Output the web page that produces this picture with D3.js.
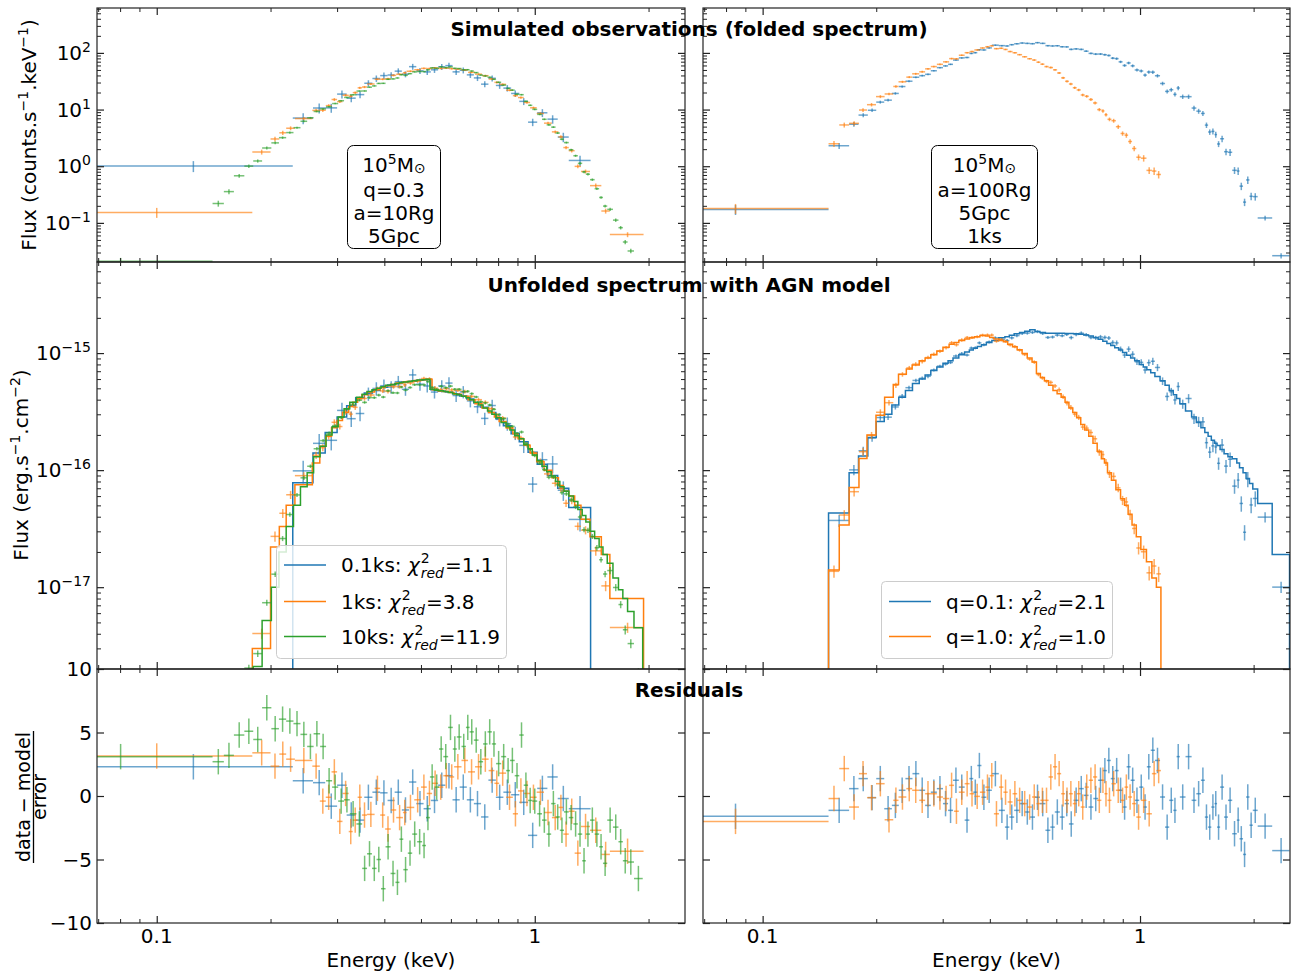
<!DOCTYPE html>
<html>
<head>
<meta charset="utf-8">
<script src="https://d3js.org/d3.v7.min.js"></script>
<style>
  body { margin: 0; background: #fff; }
  text { font-family: "DejaVu Sans", sans-serif; }
</style>
</head>
<body>
<div id="chart"></div>
<script>
// ---------------- data ----------------
// left column: 1e5 Msun, q=0.3, a=10Rg, 5Gpc ; exposures 0.1ks / 1ks / 10ks
// per series: bin edges (keV), folded model (counts/s/keV), unfolded model (1e-16 erg/s/cm2),
// residual (data-model)/error, relative error of each bin

var l01Edges = [0.021, 0.229, 0.259, 0.279, 0.300, 0.318, 0.336, 0.354, 0.372, 0.390,
  0.408, 0.426, 0.445, 0.465, 0.486, 0.508, 0.531, 0.555, 0.580, 0.606,
  0.633, 0.661, 0.690, 0.721, 0.754, 0.789, 0.826, 0.866, 0.910, 0.960,
  1.015, 1.080, 1.150, 1.230, 1.405];
var l01Fold = [0.67, 5.6, 8.8, 12.5, 16.5, 20.5, 25, 29.5, 34, 38.5,
  42.5, 46, 48.5, 50.5, 52, 52.5, 52.5, 51.5, 50, 48,
  45.5, 42.5, 39, 35, 31, 27, 23, 19, 15, 11.2,
  8.0, 5.4, 3.4, 1.6];
var l01Unf = [0.01, 0.78, 1.4, 2.1, 2.85, 3.55, 4.15, 4.55, 4.8, 5.1,
  5.35, 5.5, 5.65, 5.75, 5.85, 5.95, 4.85, 4.75, 4.65, 4.5,
  4.3, 4.05, 3.75, 3.45, 3.1, 2.75, 2.4, 2.05, 1.75, 1.42,
  1.12, 0.9, 0.7, 0.48];
var l01Res = [2.3, 1.2, 1.05, -0.8, 0.85, -1.5, -1.9, -0.1, 0.3, 0.25,
  -0.35, 0.3, -1.1, 1.1, -0.6, -1.0, -0.35, 0.85, 1.6, -0.3,
  0.7, -0.3, -0.6, -1.65, 1.25, -0.1, 0.3, 0.1, -0.5, -3.1,
  0.6, 1.5, -0.2, -1.0];
var l01Err = [0.22, 0.22, 0.2, 0.18, 0.16, 0.15, 0.14, 0.13, 0.13, 0.13,
  0.12, 0.12, 0.12, 0.12, 0.12, 0.12, 0.12, 0.12, 0.12, 0.12,
  0.12, 0.12, 0.12, 0.12, 0.12, 0.13, 0.13, 0.13, 0.14, 0.15,
  0.16, 0.17, 0.19, 0.21];

var l1Edges = [0.021, 0.179, 0.200, 0.211, 0.220, 0.232, 0.258, 0.270, 0.280, 0.290,
  0.300, 0.310, 0.322, 0.330, 0.340, 0.349, 0.360, 0.377, 0.390, 0.402,
  0.416, 0.430, 0.448, 0.458, 0.480, 0.500, 0.518, 0.535, 0.555, 0.573,
  0.594, 0.612, 0.640, 0.666, 0.695, 0.725, 0.755, 0.782, 0.805, 0.840,
  0.875, 0.903, 0.935, 0.972, 1.012, 1.058, 1.110, 1.155, 1.190, 1.230,
  1.275, 1.325, 1.400, 1.500, 1.580, 1.940];
var l1Fold = [0.094, 1.33, 2.45, 3.0, 3.8, 5.8, 8.3, 10, 11.8, 13.5,
  15.5, 17.7, 20, 22, 24.3, 26.8, 30, 33.5, 36.5, 39,
  42, 45, 47, 49, 51, 52, 52.5, 52.5, 52, 51,
  50, 48, 45.5, 42.5, 39, 35.5, 32, 29, 26, 22,
  18.8, 16, 13.2, 10.8, 8.4, 6.2, 4.5, 3.5, 2.7, 2.05,
  1.5, 1.0, 0.6, 0.3, 0.11];
var l1Unf = [0.01, 0.03, 0.22, 0.33, 0.5, 0.75, 1.15, 1.6, 1.95, 2.3,
  2.65, 3.1, 3.5, 3.8, 4.1, 4.4, 4.65, 4.85, 5.05, 5.25,
  5.4, 5.55, 5.65, 5.73, 5.83, 5.92, 5.97, 4.85, 4.75, 4.7,
  4.6, 4.45, 4.27, 4.0, 3.7, 3.4, 3.1, 2.85, 2.6, 2.3,
  2.05, 1.85, 1.63, 1.4, 1.18, 1.0, 0.86, 0.74, 0.66, 0.6,
  0.5, 0.38, 0.27, 0.19, 0.08];
var l1Res = [3.15, 3.4, 2.35, 3.3, 2.9, 2.8, 2.35, -0.4, -0.1, 1.9,
  -2.0, 0.2, -2.8, -1.9, -0.1, -1.5, -1.45, 0.6, -1.5, -2.6,
  -1.1, -1.7, -1.3, -0.9, -0.3, 0.7, 0.2, 1.0, 0.7, 1.6,
  1.5, 2.3, 2.8, 1.9, 2.3, 2.9, 2.0, 1.0, 1.8, -0.1,
  -1.4, 0.4, 0.2, -0.1, 0.3, -1.3, -1.7, -0.9, -3.0, -1.2,
  -4.5, -2.4, -2.7, -4.6, -4.35];
var l1Err = [0.2, 0.1, 0.1, 0.09, 0.08, 0.07, 0.07, 0.07, 0.06, 0.06,
  0.055, 0.05, 0.05, 0.05, 0.045, 0.045, 0.04, 0.04, 0.04, 0.04,
  0.04, 0.04, 0.04, 0.035, 0.035, 0.035, 0.035, 0.035, 0.035, 0.035,
  0.035, 0.035, 0.035, 0.035, 0.035, 0.04, 0.04, 0.04, 0.04, 0.04,
  0.045, 0.045, 0.05, 0.05, 0.05, 0.055, 0.06, 0.065, 0.07, 0.07,
  0.075, 0.08, 0.09, 0.1, 0.1];

var l10Edges = [0.02, 0.1405, 0.1505, 0.16, 0.1705, 0.18, 0.19, 0.201, 0.2105, 0.22,
  0.23, 0.24, 0.25, 0.26, 0.2705, 0.2805, 0.291, 0.302, 0.313, 0.324,
  0.3375, 0.3495, 0.36, 0.371, 0.3815, 0.392, 0.403, 0.4155, 0.428, 0.4385,
  0.449, 0.4615, 0.474, 0.4885, 0.5035, 0.5155, 0.528, 0.5425, 0.558, 0.573,
  0.59, 0.607, 0.622, 0.64, 0.6575, 0.6725, 0.69, 0.71, 0.73, 0.75,
  0.77, 0.79, 0.815, 0.84, 0.86, 0.885, 0.91, 0.935, 0.96, 0.985,
  1.015, 1.045, 1.075, 1.105, 1.135, 1.165, 1.195, 1.23, 1.265, 1.3,
  1.335, 1.365, 1.4, 1.44, 1.48, 1.515, 1.555, 1.61, 1.665, 1.71,
  1.76, 1.83, 1.93];
var l10Fold = [0.0143, 0.166, 0.27, 0.49, 0.74, 0.96, 1.48, 2.0, 2.45, 3.1,
  3.9, 5.2, 6.3, 7.9, 9.2, 10.8, 12.5, 14.5, 16.5, 19,
  22.5, 25, 28, 30.5, 33, 35.5, 38, 41, 43.5, 45,
  47, 48.5, 50, 51.5, 52, 52.5, 52.5, 52.5, 52, 51,
  50, 49, 47.5, 46, 44.5, 42.5, 40.5, 38, 35.5, 33,
  31, 28.5, 25, 22.5, 20.5, 17.8, 16, 13.6, 12, 10.2,
  8.6, 7.2, 6.0, 5.0, 4.1, 3.35, 2.75, 2.1, 1.7, 1.3,
  1.05, 0.85, 0.64, 0.48, 0.36, 0.29, 0.2, 0.135, 0.11, 0.085,
  0.06, 0.045];
var l10Unf = [0.003, 0.004, 0.006, 0.01, 0.015, 0.021, 0.052, 0.1, 0.2, 0.33,
  0.5, 0.72, 0.95, 1.3, 1.6, 2.0, 2.35, 2.85, 3.35, 3.8,
  4.2, 4.45, 4.7, 4.85, 5.0, 5.15, 5.3, 5.4, 5.5, 5.6,
  5.65, 5.72, 5.8, 5.88, 5.93, 5.97, 4.9, 4.82, 4.76, 4.7,
  4.6, 4.5, 4.4, 4.27, 4.15, 4.0, 3.8, 3.6, 3.4, 3.2,
  3.0, 2.8, 2.55, 2.35, 2.2, 1.97, 1.85, 1.65, 1.52, 1.35,
  1.2, 1.08, 0.97, 0.89, 0.8, 0.72, 0.66, 0.6, 0.54, 0.46,
  0.41, 0.36, 0.3, 0.26, 0.22, 0.19, 0.16, 0.12, 0.095, 0.08,
  0.062, 0.045];
var l10Res = [3.1, 2.7, 3.2, 4.8, 5.1, 4.45, 6.95, 5.3, 6.05, 5.9,
  5.7, 4.85, 3.9, 4.9, 3.9, 1.2, 0.7, -0.4, -0.3, -1.4,
  -2.2, -5.7, -4.55, -5.7, -5.0, -7.3, -4.0, -6.1, -6.8, -3.4,
  -5.8, -4.5, -3.0, -3.6, -3.9, -1.7, 1.5, 0.7, 3.7, 3.1,
  5.4, 3.7, 4.65, 3.9, 5.4, 5.05, 4.4, 2.7, 4.1, 5.05,
  4.1, 2.55, 3.1, 2.0, 2.8, 1.6, 4.8, 0.85, -0.35, -0.4,
  -1.4, -1.9, -3.0, -0.6, -1.65, -2.7, -1.25, -1.7, -2.2, -3.0,
  -5.1, -3.0, -1.9, -3.0, -4.0, -5.3, -1.9, -2.45, -3.6, -5.1,
  -5.2, -6.5];
var l10Err = [0.15, 0.12, 0.1, 0.08, 0.07, 0.065, 0.06, 0.055, 0.05, 0.045,
  0.04, 0.04, 0.035, 0.035, 0.03, 0.03, 0.03, 0.03, 0.028, 0.028,
  0.026, 0.026, 0.025, 0.025, 0.025, 0.025, 0.025, 0.025, 0.025, 0.025,
  0.025, 0.025, 0.025, 0.025, 0.025, 0.025, 0.025, 0.025, 0.025, 0.025,
  0.025, 0.025, 0.025, 0.025, 0.025, 0.025, 0.025, 0.025, 0.025, 0.025,
  0.025, 0.025, 0.026, 0.026, 0.027, 0.028, 0.03, 0.03, 0.03, 0.032,
  0.032, 0.034, 0.035, 0.035, 0.037, 0.04, 0.04, 0.042, 0.045, 0.045,
  0.048, 0.05, 0.05, 0.055, 0.055, 0.06, 0.07, 0.07, 0.07, 0.09,
  0.09, 0.09];

// right column: 1e5 Msun, a=100Rg, 5Gpc, 1ks ; q=0.1 / q=1.0
var q01Edges = [0.02, 0.1495, 0.1695, 0.1795, 0.19, 0.2, 0.21, 0.22, 0.2295, 0.239,
  0.2495, 0.26, 0.2695, 0.279, 0.2895, 0.3005, 0.31, 0.3195, 0.331, 0.343,
  0.353, 0.3615, 0.3705, 0.38, 0.3915, 0.405, 0.4225, 0.4385, 0.4505, 0.464,
  0.4795, 0.495, 0.5105, 0.527, 0.543, 0.5615, 0.5785, 0.5945, 0.613, 0.631,
  0.648, 0.6665, 0.688, 0.7095, 0.7305, 0.752, 0.7745, 0.797, 0.817, 0.8365,
  0.857, 0.8775, 0.899, 0.9215, 0.9445, 0.968, 0.995, 1.02, 1.0425, 1.0675,
  1.095, 1.13, 1.165, 1.195, 1.225, 1.25, 1.275, 1.32, 1.37, 1.41,
  1.45, 1.485, 1.515, 1.545, 1.575, 1.6, 1.63, 1.67, 1.71, 1.755,
  1.805, 1.835, 1.875, 1.91, 1.95, 1.99, 2.05, 2.24, 2.49];
var q01Fold = [0.253, 2.66, 5.2, 7.2, 9.8, 12.5, 15.5, 20, 25, 30,
  35, 39, 43, 48, 54, 60, 65, 72, 80, 88,
  94, 100, 106, 113, 121, 130, 139, 143, 147, 150,
  152, 153, 153, 152, 150, 146, 143, 139, 135, 130,
  125, 119, 113, 107, 101, 96, 91, 86, 81, 76,
  72, 68, 63, 59, 55, 51, 46, 43, 40, 36.5,
  33, 29, 26, 23, 20.5, 19, 17, 13.2, 11, 9.2,
  7.6, 6.5, 5.5, 4.6, 3.9, 3.5, 2.8, 2.3, 1.85, 1.45,
  1.15, 0.9, 0.75, 0.58, 0.45, 0.35, 0.16, 0.05];
var q01Unf = [0.01, 0.43, 0.95, 1.32, 1.9, 2.6, 3.0, 3.6, 4.2, 4.8,
  5.5, 6.0, 6.5, 7.1, 7.6, 8.2, 8.6, 9.1, 9.7, 10.2,
  10.6, 11.0, 11.4, 11.8, 12.3, 12.8, 13.5, 13.8, 14.2, 14.6,
  15.0, 15.4, 15.8, 15.3, 15.0, 14.8, 14.8, 14.8, 14.8, 14.7,
  14.7, 14.6, 14.5, 14.3, 14.0, 13.6, 13.1, 12.6, 12.1, 11.6,
  11.1, 10.6, 10.1, 9.6, 9.1, 8.6, 8.0, 7.6, 7.2, 6.8,
  6.3, 5.8, 5.3, 4.8, 4.4, 4.1, 3.7, 3.2, 2.85, 2.55,
  2.3, 2.1, 1.95, 1.8, 1.7, 1.62, 1.5, 1.38, 1.3, 1.25,
  1.15, 1.05, 0.95, 0.85, 0.77, 0.69, 0.52, 0.19];
var q01Res = [-1.6, -1.13, 0.58, 1.37, -0.13, 1.37, -1.0, -0.74, 0.45, 1.37,
  1.76, 0.45, -0.74, 0.3, 0.58, -0.6, -1.13, 1.24, 0.7, -1.9,
  1.37, 0.3, 2.4, -0.1, 0.45, 1.76, -1.13, -2.45, -1.66, -1.13,
  -0.6, -1.26, -1.66, -0.1, -0.6, -2.7, -2.45, -1.26, -1.66, -0.6,
  -2.2, -0.34, 0.58, 0.05, -0.87, -0.2, 1.24, 2.0, 2.8, 1.37,
  2.0, 0.45, -0.87, 2.3, 1.24, -0.34, 0.7, -0.87, 2.3, 3.6,
  2.8, -0.08, -2.45, -0.34, -1.13, 3.1, -0.08, 3.1, -0.34, 0.18,
  1.24, -1.66, -2.45, -0.87, -0.6, -2.45, 0.7, -1.66, -0.34, -2.97,
  -1.9, -3.37, -4.6, -0.08, -2.3, -1.13, -2.37, -4.3];
var q01Err = [0.2, 0.12, 0.1, 0.08, 0.07, 0.06, 0.055, 0.05, 0.045, 0.04,
  0.035, 0.035, 0.035, 0.03, 0.03, 0.03, 0.03, 0.03, 0.03, 0.03,
  0.03, 0.03, 0.03, 0.03, 0.03, 0.03, 0.03, 0.03, 0.03, 0.03,
  0.03, 0.03, 0.03, 0.03, 0.03, 0.03, 0.03, 0.03, 0.03, 0.03,
  0.035, 0.035, 0.035, 0.035, 0.035, 0.04, 0.04, 0.04, 0.04, 0.045,
  0.05, 0.05, 0.055, 0.055, 0.06, 0.06, 0.06, 0.065, 0.065, 0.07,
  0.07, 0.075, 0.08, 0.08, 0.085, 0.085, 0.09, 0.09, 0.1, 0.1,
  0.1, 0.11, 0.11, 0.12, 0.12, 0.12, 0.13, 0.13, 0.14, 0.14,
  0.15, 0.15, 0.15, 0.15, 0.15, 0.15, 0.1, 0.11];

var q1Edges = [0.02, 0.1495, 0.1596, 0.1695, 0.18, 0.189, 0.1997, 0.2105, 0.2219, 0.2291,
  0.2403, 0.249, 0.26, 0.2695, 0.279, 0.2895, 0.3005, 0.312, 0.3215, 0.331,
  0.343, 0.3535, 0.364, 0.3765, 0.389, 0.3995, 0.41, 0.423, 0.4345, 0.446,
  0.4595, 0.4725, 0.487, 0.5025, 0.5175, 0.5315, 0.5445, 0.558, 0.5725, 0.588,
  0.603, 0.618, 0.633, 0.648, 0.6635, 0.6795, 0.6965, 0.7135, 0.7315, 0.7505,
  0.77, 0.79, 0.805, 0.82, 0.84, 0.863, 0.888, 0.91, 0.93, 0.9525,
  0.9775, 1.005, 1.04, 1.075, 1.105, 1.136];
var q1Fold = [0.3, 2.55, 4.4, 6.2, 8.6, 12.3, 16, 21, 26, 31,
  36.5, 42, 47, 52, 57, 63, 70, 77, 82, 90,
  98, 105, 113, 121, 126, 127, 124, 118, 114, 107,
  100, 94, 87, 81, 75, 70, 64, 58, 52, 46,
  41, 36, 32, 28, 25, 22, 19, 16.5, 14, 12,
  10.2, 8.7, 8.0, 6.9, 5.9, 4.8, 3.9, 3.3, 2.75, 2.2,
  1.8, 1.45, 1.05, 0.65, 0.55];
var q1Unf = [0.01, 0.14, 0.34, 0.71, 1.26, 2.0, 2.95, 4.2, 5.4, 6.6,
  7.3, 7.9, 8.6, 9.1, 9.7, 10.4, 11.2, 11.9, 12.3, 12.8,
  13.2, 13.5, 13.8, 14.1, 14.0, 13.6, 13.2, 12.8, 12.5, 11.9,
  11.3, 10.7, 9.9, 9.1, 8.4, 6.7, 6.2, 5.8, 5.3, 4.8,
  4.5, 4.2, 3.8, 3.4, 3.1, 2.8, 2.45, 2.2, 1.95, 1.7,
  1.45, 1.25, 1.15, 0.95, 0.82, 0.68, 0.57, 0.5, 0.42, 0.34,
  0.27, 0.21, 0.165, 0.12, 0.1];
var q1Res = [-2.0, -0.2, 2.16, -0.87, 1.76, -0.13, 0.97, -1.87, -0.34, -0.08,
  0.58, 0.45, -0.34, 0.18, 0.18, -0.08, -0.2, 0.84, -1.2, 0.3,
  0.97, 0.18, -0.03, 0.3, 0.7, 1.6, -1.4, 0.7, 0.3, -0.47,
  0.18, -0.34, -0.6, -0.87, -0.08, -0.6, -0.34, -0.34, 1.5, 2.3,
  1.76, 0.18, -0.34, 0.18, -0.6, 0.18, -0.87, 0.7, 1.24, 1.5,
  -0.34, 1.24, 0.18, -0.34, 0.97, 0.45, -0.34, 0.7, -0.08, -0.6,
  -1.66, -0.34, -1.4, 1.76, 2.0];
var q1Err = [0.2, 0.12, 0.1, 0.09, 0.08, 0.07, 0.06, 0.055, 0.05, 0.045,
  0.04, 0.04, 0.04, 0.035, 0.035, 0.035, 0.035, 0.035, 0.035, 0.035,
  0.03, 0.03, 0.03, 0.03, 0.03, 0.03, 0.03, 0.03, 0.03, 0.03,
  0.03, 0.03, 0.03, 0.03, 0.035, 0.035, 0.035, 0.035, 0.04, 0.04,
  0.045, 0.045, 0.045, 0.05, 0.05, 0.05, 0.055, 0.055, 0.06, 0.06,
  0.065, 0.07, 0.07, 0.075, 0.08, 0.085, 0.09, 0.1, 0.1, 0.11,
  0.12, 0.13, 0.14, 0.15, 0.15];

// legend / annotation text
var leftLabels = ["0.1ks", "1ks", "10ks"];
var leftChi = ["1.1", "3.8", "11.9"];
var rightLabels = ["q=0.1", "q=1.0"];
var rightChi = ["2.1", "1.0"];
var leftBoxText = ["q=0.3", "a=10Rg", "5Gpc"];
var rightBoxText = ["a=100Rg", "5Gpc", "1ks"];

var blue = "#1f77b4", orange = "#ff7f0e", green = "#2ca02c";

// ---------------- layout ----------------
var cols = [{x0: 97, x1: 685}, {x0: 703, x1: 1290}];
var rows = {fold: {y0: 8, y1: 262}, unf: {y0: 262, y1: 669}, res: {y0: 669, y1: 923}};

var svg = d3.select("#chart").append("svg")
  .attr("width", 1311)
  .attr("height", 974);

var eDomain = [0.0695, 2.497];
var xScales = cols.map(function(c) {
  return d3.scaleLog().domain(eDomain).range([c.x0, c.x1]);
});
var yFold = d3.scaleLog().domain([0.0204, 620]).range([rows.fold.y1, rows.fold.y0]);
var yUnf = d3.scaleLog().domain([2.0e-18, 6.0e-15]).range([rows.unf.y1, rows.unf.y0]);
var yRes = d3.scaleLinear().domain([-10, 10]).range([rows.res.y1, rows.res.y0]);

// build bins: data = model * (1 + resid * relErr), as in (data-model)/error
function makeBins(edges, fold, unf, res, rel) {
  return fold.map(function(m, i) {
    var f = 1 + res[i] * rel[i];
    var lo = edges[i], hi = edges[i + 1];
    return {
      lo: lo, hi: hi, e: (lo + hi) / 2,
      cts: m * f, ctsErr: m * f * rel[i],
      flux: unf[i] * f * 1e-16, fluxErr: unf[i] * f * rel[i] * 1e-16,
      model: unf[i] * 1e-16,
      res: res[i]
    };
  });
}

var leftSeries = [
  {color: blue, bins: makeBins(l01Edges, l01Fold, l01Unf, l01Res, l01Err)},
  {color: orange, bins: makeBins(l1Edges, l1Fold, l1Unf, l1Res, l1Err)},
  {color: green, bins: makeBins(l10Edges, l10Fold, l10Unf, l10Res, l10Err)}
];
var rightSeries = [
  {color: blue, bins: makeBins(q01Edges, q01Fold, q01Unf, q01Res, q01Err)},
  {color: orange, bins: makeBins(q1Edges, q1Fold, q1Unf, q1Res, q1Err)}
];

// clip paths
var defs = svg.append("defs");
var clipId = 0;
function panelGroup(c, r) {
  var id = "clip" + (clipId++);
  defs.append("clipPath").attr("id", id).append("rect")
    .attr("x", c.x0).attr("y", r.y0)
    .attr("width", c.x1 - c.x0).attr("height", r.y1 - r.y0);
  return svg.append("g").attr("clip-path", "url(#" + id + ")");
}

// error bars: horizontal = bin width, vertical = error
function errorbars(g, bins, xs, ys, val, err, color, isLog) {
  var lowLimit = ys.domain()[0] / 100;
  var grp = g.append("g")
    .attr("stroke", color)
    .attr("stroke-width", 1.5)
    .attr("stroke-opacity", 0.65);
  grp.selectAll(null).data(bins).enter().append("line")
    .attr("x1", d => xs(d.lo)).attr("x2", d => xs(d.hi))
    .attr("y1", d => ys(val(d))).attr("y2", d => ys(val(d)));
  grp.selectAll(null).data(bins).enter().append("line")
    .attr("x1", d => xs(d.e)).attr("x2", d => xs(d.e))
    .attr("y1", function(d) {
      var v = val(d) - err(d);
      if (isLog && v <= 0) v = lowLimit;
      return ys(v);
    })
    .attr("y2", d => ys(val(d) + err(d)));
}

// model step line
function stepLine(g, bins, xs, ys, color) {
  var floorV = ys.domain()[0] / 100;
  var pts = [[bins[0].lo, floorV]];
  bins.forEach(function(b) {
    pts.push([b.lo, b.model]);
    pts.push([b.hi, b.model]);
  });
  pts.push([bins[bins.length - 1].hi, floorV]);
  g.append("path")
    .attr("d", d3.line().x(p => xs(p[0])).y(p => ys(p[1]))(pts))
    .attr("fill", "none")
    .attr("stroke", color)
    .attr("stroke-width", 1.5);
}

// ---------------- draw data ----------------
[leftSeries, rightSeries].forEach(function(series, ci) {
  var xs = xScales[ci];
  var c = cols[ci];
  var gF = panelGroup(c, rows.fold);
  var gU = panelGroup(c, rows.unf);
  var gR = panelGroup(c, rows.res);
  series.forEach(function(s) {
    errorbars(gF, s.bins, xs, yFold, d => d.cts, d => d.ctsErr, s.color, true);
    errorbars(gU, s.bins, xs, yUnf, d => d.flux, d => d.fluxErr, s.color, true);
    stepLine(gU, s.bins, xs, yUnf, s.color);
    errorbars(gR, s.bins, xs, yRes, d => d.res, d => 1, s.color, false);
  });
});

// ---------------- axes: inward ticks on every side ----------------
var xMajor = [0.1, 1];
var xMinor = [0.07, 0.08, 0.09, 0.2, 0.3, 0.4, 0.5, 0.6, 0.7, 0.8, 0.9, 2];

function logMinors(lo, hi) {
  var out = [];
  for (var p = Math.floor(Math.log10(lo)); p <= Math.ceil(Math.log10(hi)); p++) {
    for (var k = 2; k <= 9; k++) {
      var v = k * Math.pow(10, p);
      if (v > lo && v < hi) out.push(v);
    }
  }
  return out;
}

function ticks(axisFn, scale, values, size, tx, ty) {
  svg.append("g")
    .attr("transform", "translate(" + tx + "," + ty + ")")
    .call(axisFn(scale).tickValues(values).tickSize(size).tickFormat(""))
    .call(g => g.select(".domain").remove())
    .call(g => g.selectAll("line").attr("stroke", "#222").attr("stroke-width", size === -7 ? 1.2 : 1));
}

var yInfo = [
  {r: rows.fold, s: yFold, major: [0.1, 1, 10, 100], minor: logMinors(0.0204, 620)},
  {r: rows.unf, s: yUnf, major: [1e-17, 1e-16, 1e-15], minor: logMinors(2e-18, 6e-15)},
  {r: rows.res, s: yRes, major: [-10, -5, 0, 5, 10], minor: []}
];

cols.forEach(function(c, ci) {
  var xs = xScales[ci];
  yInfo.forEach(function(yi) {
    var r = yi.r;
    ticks(d3.axisBottom, xs, xMajor, -7, 0, r.y1);
    ticks(d3.axisBottom, xs, xMinor, -4, 0, r.y1);
    ticks(d3.axisTop, xs, xMajor, -7, 0, r.y0);
    ticks(d3.axisTop, xs, xMinor, -4, 0, r.y0);
    ticks(d3.axisLeft, yi.s, yi.major, -7, c.x0, 0);
    ticks(d3.axisRight, yi.s, yi.major, -7, c.x1, 0);
    if (yi.minor.length) {
      ticks(d3.axisLeft, yi.s, yi.minor, -4, c.x0, 0);
      ticks(d3.axisRight, yi.s, yi.minor, -4, c.x1, 0);
    }
    svg.append("rect")
      .attr("x", c.x0).attr("y", r.y0)
      .attr("width", c.x1 - c.x0).attr("height", r.y1 - r.y0)
      .attr("fill", "none").attr("stroke", "#222").attr("stroke-width", 1.2);
  });
});

// ---------------- tick labels ----------------
var fs = 20, sup = 14;
function powLabel(x, y, exp) {
  var t = svg.append("text").attr("x", x).attr("y", y)
    .attr("text-anchor", "end").attr("font-size", fs);
  t.append("tspan").text("10");
  t.append("tspan").attr("dy", -8).attr("font-size", sup)
    .text(String(exp).replace("-", "\u2212"));
}
[2, 1, 0, -1].forEach(function(p) { powLabel(91, yFold(Math.pow(10, p)) + 7, p); });
[-15, -16, -17].forEach(function(p) { powLabel(91, yUnf(Math.pow(10, p)) + 7, p); });
[10, 5, 0, -5, -10].forEach(function(v) {
  svg.append("text").attr("x", 92).attr("y", yRes(v) + 7)
    .attr("text-anchor", "end").attr("font-size", fs)
    .text(String(v).replace("-", "\u2212"));
});
xScales.forEach(function(xs, ci) {
  [[0.1, "0.1"], [1, "1"]].forEach(function(t) {
    svg.append("text").attr("x", xs(t[0])).attr("y", 943)
      .attr("text-anchor", "middle").attr("font-size", fs).text(t[1]);
  });
  svg.append("text")
    .attr("x", (cols[ci].x0 + cols[ci].x1) / 2).attr("y", 967)
    .attr("text-anchor", "middle").attr("font-size", fs).text("Energy (keV)");
});

// ---------------- axis titles ----------------
var yl1 = svg.append("text").attr("transform", "translate(36,135) rotate(-90)")
  .attr("text-anchor", "middle").attr("font-size", fs);
yl1.append("tspan").text("Flux (counts.s");
yl1.append("tspan").attr("dy", -8).attr("font-size", sup).text("\u22121");
yl1.append("tspan").attr("dy", 8).text(".keV");
yl1.append("tspan").attr("dy", -8).attr("font-size", sup).text("\u22121");
yl1.append("tspan").attr("dy", 8).text(")");

var yl2 = svg.append("text").attr("transform", "translate(28,465) rotate(-90)")
  .attr("text-anchor", "middle").attr("font-size", fs);
yl2.append("tspan").text("Flux (erg.s");
yl2.append("tspan").attr("dy", -8).attr("font-size", sup).text("\u22121");
yl2.append("tspan").attr("dy", 8).text(".cm");
yl2.append("tspan").attr("dy", -8).attr("font-size", sup).text("\u22122");
yl2.append("tspan").attr("dy", 8).text(")");

svg.append("text").attr("transform", "translate(30,797) rotate(-90)")
  .attr("text-anchor", "middle").attr("font-size", 19).text("data \u2212 model");
svg.append("line").attr("x1", 33.5).attr("x2", 33.5).attr("y1", 731).attr("y2", 863)
  .attr("stroke", "#000").attr("stroke-width", 1.3);
svg.append("text").attr("transform", "translate(46,797) rotate(-90)")
  .attr("text-anchor", "middle").attr("font-size", 19).text("error");

// panel titles
[["Simulated observations (folded spectrum)", 36],
 ["Unfolded spectrum with AGN model", 292],
 ["Residuals", 697]].forEach(function(t) {
  svg.append("text").attr("x", 689).attr("y", t[1])
    .attr("text-anchor", "middle").attr("font-size", fs).attr("font-weight", "bold")
    .text(t[0]);
});

// ---------------- annotation boxes ----------------
function infoBox(x, y, w, h, lines) {
  svg.append("rect").attr("x", x).attr("y", y).attr("width", w).attr("height", h)
    .attr("rx", 6).attr("fill", "#fff").attr("stroke", "#000").attr("stroke-width", 1);
  var cx = x + w / 2;
  var t = svg.append("text").attr("x", cx).attr("y", y + 26)
    .attr("text-anchor", "middle").attr("font-size", fs);
  t.append("tspan").text("10");
  t.append("tspan").attr("dy", -8).attr("font-size", sup).text("5");
  t.append("tspan").attr("dy", 8).text("M");
  t.append("tspan").attr("dy", 1).attr("font-size", sup).text("\u2299");
  lines.forEach(function(l, i) {
    svg.append("text").attr("x", cx).attr("y", y + 51 + i * 23)
      .attr("text-anchor", "middle").attr("font-size", fs).text(l);
  });
}
infoBox(347.5, 145.5, 93, 103, leftBoxText);
infoBox(931.5, 145.5, 106, 103, rightBoxText);

// ---------------- legends ----------------
// one text element per entry; chi^2_red has its sup and sub stacked
function chiText(x, y, prefix, value) {
  var t = svg.append("text").attr("x", x).attr("y", y).attr("font-size", fs);
  var p1 = t.append("tspan").text(prefix + ":\u00a0");
  var p2 = t.append("tspan").attr("font-style", "italic").text("\u03c7");
  var x2 = x + p1.node().getComputedTextLength() + p2.node().getComputedTextLength() + 1;
  t.append("tspan").attr("x", x2).attr("y", y - 9).attr("font-size", sup).text("2");
  var p4 = t.append("tspan").attr("x", x2).attr("y", y + 6).attr("font-size", sup)
    .attr("font-style", "italic").text("red");
  var x3 = x2 + p4.node().getComputedTextLength() + 1;
  t.append("tspan").attr("x", x3).attr("y", y).text("=" + value);
}

function legend(x, y, w, h, labels, chis, colors, lineX, textX, rowY) {
  svg.append("rect").attr("x", x).attr("y", y).attr("width", w).attr("height", h)
    .attr("rx", 4).attr("fill", "#fff").attr("fill-opacity", 0.8)
    .attr("stroke", "#ccc").attr("stroke-width", 1);
  labels.forEach(function(l, i) {
    var yy = rowY[i];
    svg.append("line").attr("x1", lineX).attr("x2", lineX + 42)
      .attr("y1", yy).attr("y2", yy)
      .attr("stroke", colors[i]).attr("stroke-width", 1.5);
    chiText(textX, yy + 7, l, chis[i]);
  });
}
legend(276.5, 545.5, 230, 113, leftLabels, leftChi, [blue, orange, green], 284, 341, [565, 601.5, 636.5]);
legend(881.5, 581.5, 231, 77, rightLabels, rightChi, [blue, orange], 889, 946, [601.5, 636.5]);
</script>
</body>
</html>
